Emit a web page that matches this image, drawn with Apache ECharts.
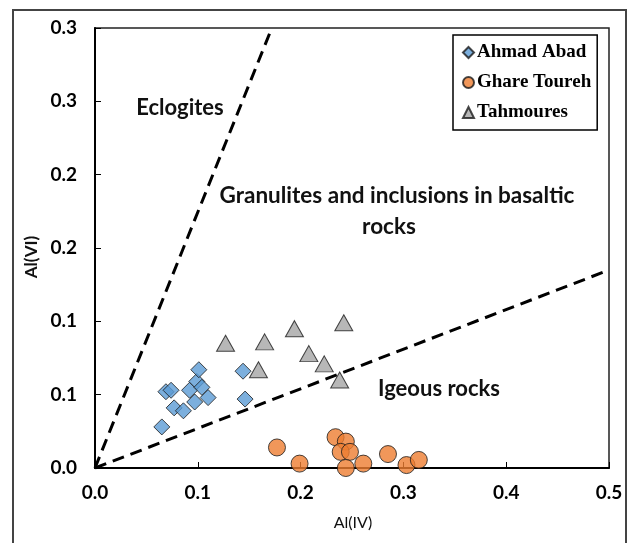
<!DOCTYPE html>
<html>
<head>
<meta charset="utf-8">
<script src="https://cdn.jsdelivr.net/npm/echarts@6/dist/echarts.min.js"></script>
<style>
  html, body { margin: 0; padding: 0; background: #fff; }
  #main { width: 633px; height: 543px; }
</style>
</head>
<body>
<div id="main"></div>
<script>
// Al(IV) vs Al(VI) data
var ahmadAbad = [[0.065, 0.028], [0.069, 0.052], [0.074, 0.053], [0.077, 0.041], [0.086, 0.039],
  [0.092, 0.053], [0.097, 0.045], [0.099, 0.059], [0.101, 0.067], [0.104, 0.055],
  [0.110, 0.048], [0.144, 0.066], [0.146, 0.047]];
var ghareToureh = [[0.177, 0.014], [0.199, 0.003], [0.234, 0.021], [0.244, 0.018], [0.239, 0.011],
  [0.248, 0.011], [0.244, 0.0], [0.261, 0.003], [0.285, 0.0095], [0.303, 0.002], [0.315, 0.0055]];
var tahmoures = [[0.127, 0.085], [0.165, 0.086], [0.194, 0.095], [0.242, 0.099], [0.208, 0.078],
  [0.223, 0.071], [0.159, 0.067], [0.238, 0.060]];

// field boundaries
var eclogiteLine = [[0, 0], [0.172, 0.30]];
var igneousLine = [[0, 0], [0.5, 0.135]];

var xTickLabels = ['0.0', '0.1', '0.2', '0.3', '0.4', '0.5'];
var yTickLabels = ['0.0', '0.1', '0.1', '0.2', '0.2', '0.3', '0.3'];

var myChart = echarts.init(document.getElementById('main'));
var labelFont = 'Lato, "DejaVu Sans", sans-serif';

var option = {
  backgroundColor: '#fff',
  animation: false,
  grid: {
    left: 95,
    right: 24,
    top: 28,
    bottom: 75,
    show: true,
    borderColor: '#222',
    borderWidth: 1.5
  },
  legend: {
    orient: 'vertical',
    left: 453,
    top: 35,
    padding: [8, 6, 8, 9],
    itemGap: 11,
    itemWidth: 11,
    itemHeight: 11,
    borderColor: '#000',
    borderWidth: 1.5,
    backgroundColor: '#fff',
    textStyle: { fontFamily: '"Liberation Serif", serif', fontWeight: 'bold', fontSize: 19, color: '#000', padding: [0, 0, 0, -2] },
    data: ['Ahmad Abad', 'Ghare Toureh', 'Tahmoures']
  },
  xAxis: {
    type: 'value',
    min: 0,
    max: 0.5,
    interval: 0.1,
    splitLine: { show: false },
    axisLine: { lineStyle: { color: '#000', width: 2 } },
    axisTick: { inside: true, length: 6, lineStyle: { color: '#000', width: 1 } },
    axisLabel: {
      margin: 15,
      fontFamily: labelFont,
      fontWeight: 'bold',
      fontSize: 19,
      color: '#000',
      formatter: function (v) { return xTickLabels[Math.round(v / 0.1)]; }
    }
  },
  yAxis: {
    type: 'value',
    min: 0,
    max: 0.3,
    interval: 0.05,
    splitLine: { show: false },
    axisLine: { lineStyle: { color: '#000', width: 2 } },
    axisTick: { inside: true, length: 6, lineStyle: { color: '#000', width: 1 } },
    axisLabel: {
      margin: 18,
      fontFamily: labelFont,
      fontWeight: 'bold',
      fontSize: 19,
      color: '#000',
      formatter: function (v) { return yTickLabels[Math.round(v / 0.05)]; }
    }
  },
  graphic: [
    { type: 'rect', silent: true, z: -10, shape: { x: 13, y: 10, width: 613, height: 545 },
      style: { fill: 'none', stroke: '#444', lineWidth: 2 } },
    { type: 'text', x: 180, y: 108, style: { text: 'Eclogites', font: 'bold 22px ' + labelFont, fill: '#111', align: 'center', verticalAlign: 'middle' } },
    { type: 'text', x: 397, y: 196, style: { text: 'Granulites and inclusions in basaltic', font: 'bold 22.5px ' + labelFont, fill: '#111', align: 'center', verticalAlign: 'middle' } },
    { type: 'text', x: 389, y: 227, style: { text: 'rocks', font: 'bold 22.5px ' + labelFont, fill: '#111', align: 'center', verticalAlign: 'middle' } },
    { type: 'text', x: 439, y: 389, style: { text: 'Igeous rocks', font: 'bold 22px ' + labelFont, fill: '#111', align: 'center', verticalAlign: 'middle' } },
    { type: 'text', x: 353, y: 523, style: { text: 'Al(IV)', font: '16px ' + labelFont, fill: '#111', align: 'center', verticalAlign: 'middle' } },
    { type: 'text', x: 32, y: 257, rotation: Math.PI / 2, style: { text: 'Al(VI)', font: 'bold 17px ' + labelFont, fill: '#111', align: 'center', verticalAlign: 'middle' } }
  ],
  series: [
    {
      name: 'Ahmad Abad',
      type: 'scatter',
      symbol: 'diamond',
      symbolSize: 16,
      clip: false,
      itemStyle: { color: '#5B9BD5', borderColor: '#1a1a1a', borderWidth: 1 },
      data: ahmadAbad
    },
    {
      name: 'Ghare Toureh',
      type: 'scatter',
      symbol: 'circle',
      symbolSize: 17,
      clip: false,
      itemStyle: { color: '#ED7D31', borderColor: '#1a1a1a', borderWidth: 1 },
      data: ghareToureh
    },
    {
      name: 'Tahmoures',
      type: 'scatter',
      symbol: 'triangle',
      symbolSize: [18, 16],
      clip: false,
      itemStyle: { color: '#A5A5A5', borderColor: '#1a1a1a', borderWidth: 1 },
      data: tahmoures
    },
    {
      type: 'line',
      data: eclogiteLine,
      symbol: 'none',
      z: 5,
      silent: true,
      lineStyle: { color: '#000', width: 3, type: [12, 7] }
    },
    {
      type: 'line',
      data: igneousLine,
      symbol: 'none',
      z: 5,
      silent: true,
      lineStyle: { color: '#000', width: 3, type: [12, 7] }
    }
  ]
};
myChart.setOption(option);
</script>
</body>
</html>
